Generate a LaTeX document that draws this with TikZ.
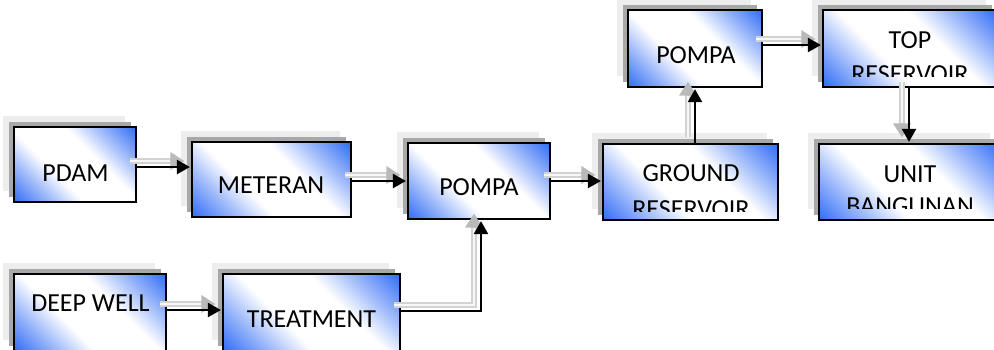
\documentclass[tikz,border=0pt]{standalone}
\usepackage{fontspec}
\setmainfont{Carlito}
\usetikzlibrary{shadows,arrows.meta,calc}
\definecolor{myblue}{RGB}{45,105,245}
\pgfdeclareverticalshading{boxshade}{100bp}{color(0bp)=(myblue); color(14bp)=(myblue); color(26bp)=(myblue!55!white); color(40bp)=(white); color(60bp)=(white); color(74bp)=(myblue!55!white); color(86bp)=(myblue); color(100bp)=(myblue)}
\begin{document}
\begin{tikzpicture}[x=1pt,y=-1pt,
 box/.style={draw=black, line width=1.2pt, inner sep=0pt,
   shading=boxshade, shading angle=-45,
   general shadow={shadow xshift=-11pt, shadow yshift=11pt, fill=gray!14},
   general shadow={shadow xshift=-5pt, shadow yshift=5pt, fill=gray!68}},
 lbl/.style={anchor=base, inner sep=0pt, font=\fontsize{26}{32}\selectfont},
 conn/.style={draw=black, line width=2.2pt, -{Triangle[length=13pt,width=14pt]}, shorten >=1.5pt},
 connsh/.style={draw=gray!35, line width=6pt, -{Triangle[length=14pt,width=17pt,color=gray!55,fill=gray!55]}, transform canvas={shift={(-7pt,6pt)}}},
 conncore/.style={draw=gray!6, line width=2pt, shorten >=14pt, transform canvas={shift={(-7pt,6pt)}}}
]
\useasboundingbox (0,0) rectangle (994,349);
\clip (0,0) rectangle (994,349);
\fill[white] (0,0) rectangle (994,349);

% boxes
\node[box, minimum width=122pt, minimum height=75pt] (pdam) at (75,164.5) {};
\node[box, minimum width=159pt, minimum height=75pt] (meter) at (271.5,179.5) {};
\node[box, minimum width=142pt, minimum height=76pt] (pompa1) at (479,181) {};
\node[box, minimum width=175pt, minimum height=76pt] (ground) at (690.5,182) {};
\node[box, minimum width=134pt, minimum height=77pt] (pompa2) at (695,48.5) {};
\node[box, minimum width=174pt, minimum height=77pt] (top) at (910,48.5) {};
\node[box, minimum width=182pt, minimum height=76pt] (unit) at (910,182) {};
\node[box, minimum width=152pt, minimum height=77pt] (deep) at (90,312.5) {};
\node[box, minimum width=177pt, minimum height=77pt] (treat) at (311.5,312.5) {};

% labels
\node[lbl] (tpdam) at (75.5,181) {PDAM};
\node[lbl] (tmeter) at (271,193) {METERAN};
\node[lbl] (tpompa1) at (479,195) {POMPA};
\node[lbl] (tpompa2) at (696,63) {POMPA};
\node[lbl] (tdeep) at (90.5,311) {DEEP WELL};
\node[lbl] (ttreat) at (311.5,327) {TREATMENT};
\begin{scope}
\clip ([yshift=9pt]ground.south west) rectangle (ground.north east);
\node[lbl] (tground1) at (691,181) {GROUND};
\node[lbl] (tground2) at (691,217) {RESERVOIR};
\end{scope}
\begin{scope}
\clip ([yshift=11pt]top.south west) rectangle (top.north east);
\node[lbl] (ttop1) at (910,48) {TOP};
\node[lbl] (ttop2) at (910,82) {RESERVOIR};
\end{scope}
\begin{scope}
\clip ([yshift=12pt]unit.south west) rectangle (unit.north east);
\node[lbl] (tunit1) at (910,182) {UNIT};
\node[lbl] (tunit2) at (910,214) {BANGUNAN};
\end{scope}

% connector anchors
\coordinate (c1) at ($(pdam.east)+(0,2.5)$);
\coordinate (c2) at ($(meter.east)+(0,1.5)$);
\coordinate (c3) at (pompa1.east);
\coordinate (c4) at ($(ground.north)+(4.5,0)$);
\coordinate (c5) at ($(pompa2.east)+(0,-3.5)$);
\coordinate (c6) at ($(top.south)+(-1,0)$);
\coordinate (c7) at ($(deep.east)+(0,-2.5)$);
\coordinate (c8) at ($(treat.east)+(0,-1.5)$);
\coordinate (c9) at ($(pompa1.south)+(2,0)$);

\foreach \s in {connsh,conncore,conn}{
  \draw[\s] (c1) -- (c1 -| meter.west);
  \draw[\s] (c2) -- (c2 -| pompa1.west);
  \draw[\s] (c3) -- (c3 -| ground.west);
  \draw[\s] (c4) -- (c4 |- pompa2.south);
  \draw[\s] (c5) -- (c5 -| top.west);
  \draw[\s] (c6) -- (c6 |- unit.north);
  \draw[\s] (c7) -- (c7 -| treat.west);
  \draw[\s] (c8) -| (c9);
}
\end{tikzpicture}
\end{document}
